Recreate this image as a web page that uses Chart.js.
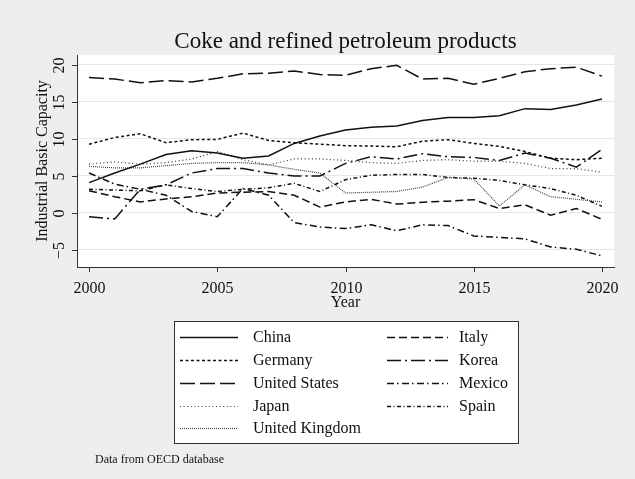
<!DOCTYPE html>
<html>
<head>
<meta charset="utf-8">
<script src="https://cdn.jsdelivr.net/npm/chart.js@4.4.0/dist/chart.umd.min.js"></script>
<style>
  html, body { margin: 0; padding: 0; background: #eeeeee; }
  #wrap { width: 635px; height: 479px; }
</style>
</head>
<body>
<div id="wrap"><canvas id="capacityChart" width="635" height="479"></canvas></div>
<script>
// industrial basic capacity, coke and refined petroleum products
const years = [2000, 2001, 2002, 2003, 2004, 2005, 2006, 2007, 2008, 2009, 2010,
               2011, 2012, 2013, 2014, 2015, 2016, 2017, 2018, 2019, 2020];

const china   = [4.1, 5.4, 6.6, 7.9, 8.4, 8.1, 7.4, 7.7, 9.4, 10.4, 11.2, 11.6, 11.75, 12.5, 12.9, 12.9, 13.15, 14.1, 14.0, 14.6, 15.4];
const germany = [9.3, 10.2, 10.7, 9.5, 9.9, 9.95, 10.8, 9.8, 9.5, 9.3, 9.1, 9.05, 8.95, 9.7, 9.9, 9.4, 9.0, 8.3, 7.4, 7.2, 7.4];
const usa     = [18.3, 18.1, 17.6, 17.9, 17.7, 18.2, 18.8, 18.9, 19.2, 18.7, 18.6, 19.5, 19.95, 18.1, 18.2, 17.4, 18.2, 19.1, 19.5, 19.7, 18.5];
const japan   = [6.6, 6.9, 6.6, 6.8, 7.3, 8.3, 7.2, 6.5, 7.3, 7.3, 7.1, 6.8, 6.7, 7.1, 7.2, 7.0, 7.0, 6.7, 6.0, 6.0, 5.5];
const uk      = [6.3, 6.1, 6.1, 6.4, 6.7, 6.8, 6.8, 6.5, 5.9, 5.4, 2.7, 2.8, 2.9, 3.5, 4.8, 4.6, 0.95, 3.8, 2.2, 1.85, 1.5];
const italy   = [3.0, 2.2, 1.5, 1.9, 2.2, 2.7, 2.8, 2.9, 2.4, 0.8, 1.5, 1.85, 1.2, 1.45, 1.6, 1.8, 0.6, 1.1, -0.3, 0.6, -0.85];
const korea   = [-0.5, -0.8, 3.2, 3.8, 5.4, 6.0, 6.0, 5.4, 5.0, 5.0, 6.7, 7.6, 7.3, 8.0, 7.6, 7.5, 7.1, 8.1, 7.4, 6.2, 8.6];
const mexico  = [5.4, 3.9, 3.2, 2.4, 0.2, -0.5, 3.3, 2.4, -1.3, -1.9, -2.1, -1.6, -2.4, -1.6, -1.7, -3.1, -3.3, -3.5, -4.6, -4.9, -5.8];
const spain   = [3.2, 3.1, 3.0, 3.8, 3.3, 2.9, 3.2, 3.4, 4.0, 2.9, 4.5, 5.1, 5.2, 5.2, 4.8, 4.7, 4.4, 3.8, 3.3, 2.4, 0.9];

const yTicks = [-5, 0, 5, 10, 15, 20];
const xTicks = [2000, 2005, 2010, 2015, 2020];

const SERIF = '"Liberation Serif", "Times New Roman", serif';

// name, values, dash pattern, stroke
const series = [
  { name: 'China',          data: china,   dash: [],               color: '#111', width: 1.5 },
  { name: 'Germany',        data: germany, dash: [3, 2.5],         color: '#111', width: 1.5 },
  { name: 'United States',  data: usa,     dash: [15, 5],          color: '#111', width: 1.5 },
  { name: 'Japan',          data: japan,   dash: [1, 2.6],         color: '#333', width: 1.2 },
  { name: 'United Kingdom', data: uk,      dash: [1, 1],           color: '#444', width: 1.2 },
  { name: 'Italy',          data: italy,   dash: [8, 4],           color: '#111', width: 1.5 },
  { name: 'Korea',          data: korea,   dash: [14, 4, 2, 4],    color: '#111', width: 1.5 },
  { name: 'Mexico',         data: mexico,  dash: [7, 3, 1.5, 3.5], color: '#111', width: 1.5 },
  { name: 'Spain',          data: spain,   dash: [4, 2.5, 1, 2.5], color: '#111', width: 1.5 }
];

const datasets = series.map(s => ({
  label: s.name,
  data: s.data.map((v, i) => ({ x: years[i], y: v })),
  borderColor: s.color,
  borderWidth: s.width,
  borderDash: s.dash,
  pointRadius: 0,
  tension: 0,
  fill: false
}));

const decor = {
  id: 'decor',
  beforeDraw(chart) {
    const { ctx, chartArea: a } = chart;
    ctx.save();
    ctx.fillStyle = '#eeeeee';
    ctx.fillRect(0, 0, chart.width, chart.height);
    ctx.fillStyle = '#ffffff';
    ctx.fillRect(a.left, a.top, a.right - a.left, a.bottom - a.top);
    ctx.restore();
  },
  afterDraw(chart) {
    const { ctx, chartArea: a, scales: { x, y } } = chart;
    ctx.save();
    ctx.fillStyle = '#111';
    ctx.strokeStyle = '#333';
    ctx.lineWidth = 1;

    // title
    ctx.font = '23px ' + SERIF;
    ctx.textAlign = 'center';
    ctx.textBaseline = 'alphabetic';
    ctx.fillText('Coke and refined petroleum products', (a.left + a.right) / 2, 48);

    // y ticks + rotated labels
    ctx.font = '16px ' + SERIF;
    yTicks.forEach(v => {
      const py = Math.round(y.getPixelForValue(v)) + 0.5;
      ctx.beginPath();
      ctx.moveTo(a.left - 5, py);
      ctx.lineTo(a.left, py);
      ctx.stroke();
      ctx.save();
      ctx.translate(64, py);
      ctx.rotate(-Math.PI / 2);
      ctx.textAlign = 'center';
      ctx.fillText(v < 0 ? '\u2212' + Math.abs(v) : String(v), 0, 0);
      ctx.restore();
    });

    // x ticks + labels
    xTicks.forEach(v => {
      const px = Math.round(x.getPixelForValue(v)) + 0.5;
      ctx.beginPath();
      ctx.moveTo(px, a.bottom);
      ctx.lineTo(px, a.bottom + 5);
      ctx.stroke();
      ctx.textAlign = 'center';
      ctx.fillText(String(v), px, 293);
    });

    // axis titles
    ctx.fillText('Year', (a.left + a.right) / 2, 307);
    ctx.save();
    ctx.translate(47, (a.top + a.bottom) / 2);
    ctx.rotate(-Math.PI / 2);
    ctx.fillText('Industrial Basic Capacity', 0, 0);
    ctx.restore();

    // legend box
    const box = { l: 174.5, t: 321.5, r: 518.5, b: 443.5 };
    ctx.fillStyle = '#ffffff';
    ctx.fillRect(box.l, box.t, box.r - box.l, box.b - box.t);
    ctx.strokeStyle = '#333';
    ctx.strokeRect(box.l, box.t, box.r - box.l, box.b - box.t);

    const rowY = [337, 360, 383, 406, 428];
    const cols = [
      { x0: 180, x1: 238, tx: 253 },
      { x0: 387, x1: 448, tx: 459 }
    ];
    series.forEach((s, i) => {
      const col = cols[i < 5 ? 0 : 1];
      const ry = rowY[i < 5 ? i : i - 5];
      ctx.save();
      ctx.strokeStyle = s.color;
      ctx.lineWidth = s.width;
      ctx.setLineDash(s.dash);
      ctx.beginPath();
      ctx.moveTo(col.x0, ry + 0.5);
      ctx.lineTo(col.x1, ry + 0.5);
      ctx.stroke();
      ctx.restore();
      ctx.fillStyle = '#111';
      ctx.textAlign = 'left';
      ctx.textBaseline = 'middle';
      ctx.fillText(s.name, col.tx, ry + 1);
    });

    // source note
    ctx.font = '12px ' + SERIF;
    ctx.textAlign = 'left';
    ctx.textBaseline = 'middle';
    ctx.fillText('Data from OECD database', 95, 460);
    ctx.restore();
  }
};

new Chart(document.getElementById('capacityChart').getContext('2d'), {
  type: 'line',
  data: { datasets },
  options: {
    responsive: false,
    animation: false,
    devicePixelRatio: 1,
    layout: { padding: { left: 77, right: 21, top: 55, bottom: 212 } },
    plugins: { legend: { display: false }, title: { display: false }, tooltip: { enabled: false } },
    scales: {
      x: {
        type: 'linear',
        min: 1999.53,
        max: 2020.47,
        afterBuildTicks: s => { s.ticks = xTicks.map(v => ({ value: v })); },
        afterFit: s => { s.height = 0; },
        ticks: { display: false },
        grid: { color: 'rgba(0,0,0,0)', drawTicks: false },
        border: { display: true, color: '#333', width: 1 }
      },
      y: {
        min: -7.3,
        max: 21.35,
        afterBuildTicks: s => { s.ticks = yTicks.map(v => ({ value: v })); },
        afterFit: s => { s.width = 0; },
        ticks: { display: false },
        grid: { color: '#e6e6e6', lineWidth: 1, drawTicks: false },
        border: { display: true, color: '#333', width: 1 }
      }
    }
  },
  plugins: [decor]
});
</script>
</body>
</html>
